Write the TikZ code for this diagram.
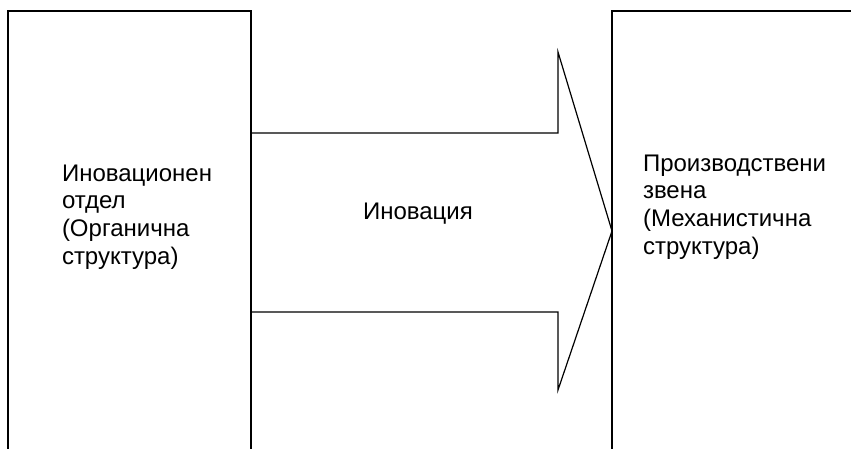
\documentclass[tikz,border=0pt]{standalone}
\usepackage{fontspec}
\setmainfont{Liberation Sans}
\begin{document}
\begin{tikzpicture}[
	x=1pt, y=-1pt,
	unitbox/.style={draw, line width=1.2pt, minimum width=243pt,
		minimum height=460pt, anchor=north west, inner sep=0pt},
	boxtext/.style={font=\fontsize{24}{27.7}\selectfont, align=left,
		anchor=north west, inner sep=0pt},
	every node/.style={outer sep=0pt},
]
\useasboundingbox (0,0) rectangle (851,448);
\clip (0,0) rectangle (851,448);
% the two units, both run past the page edge
\node[unitbox] (dept) at (8,11) {};
\node[unitbox, minimum width=270pt] (prod) at (612,11) {};
\node[boxtext] (depttext) at (62,164.5)
	{Иновационен\\отдел\\(Органична\\структура)};
\node[boxtext] (prodtext) at (643,154.5)
	{Производствени\\звена\\(Механистична\\структура)};
% block arrow from one unit to the other
\coordinate (tip) at (prod.west |- 0,231);
\draw[line width=1.2pt, line join=miter]
	(dept.east |- 0,133) -- (558,133) -- (558,52) -- (tip)
	-- (558,390) -- (558,312) -- (dept.east |- 0,312);
\node[boxtext, anchor=base west] (flow) at (363,219) {Иновация};
\end{tikzpicture}
\end{document}
